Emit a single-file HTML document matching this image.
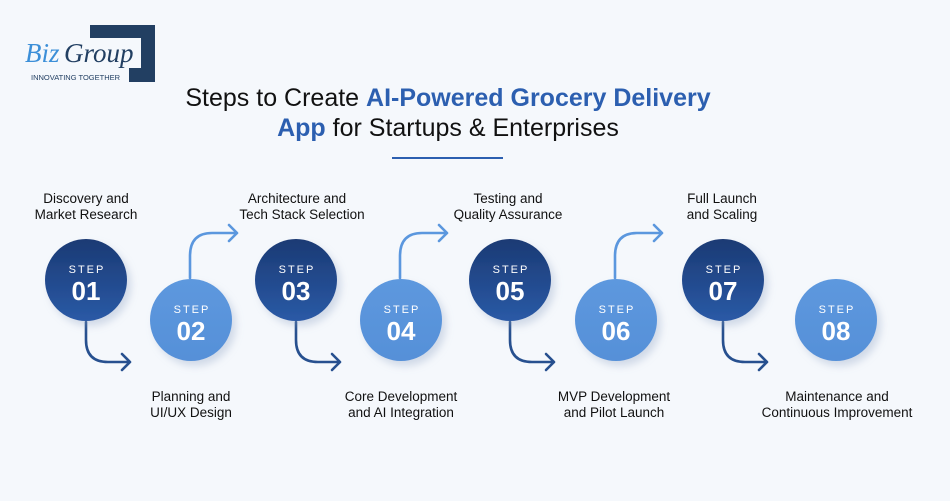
<!DOCTYPE html>
<html><head><meta charset="utf-8"><style>
html,body{margin:0;padding:0;background:#f5f8fc;}
svg{display:block}
</style></head><body>
<svg width="950" height="501" viewBox="0 0 950 501" xmlns="http://www.w3.org/2000/svg" font-family="Liberation Sans, sans-serif">
<defs>
<linearGradient id="dk" x1="0" y1="0" x2="0" y2="1"><stop offset="0" stop-color="#1b3a74"/><stop offset="1" stop-color="#2a5aa6"/></linearGradient>
<linearGradient id="lt" x1="0" y1="0" x2="0" y2="1"><stop offset="0" stop-color="#5d98de"/><stop offset="1" stop-color="#5690d8"/></linearGradient>
<filter id="sh" x="-30%" y="-30%" width="160%" height="160%"><feDropShadow dx="4" dy="5" stdDeviation="4" flood-color="#8aa0c0" flood-opacity="0.35"/></filter>
</defs>
<rect width="950" height="501" fill="#f5f8fc"/>
<!-- logo -->
<path d="M90 25 H155 V82 H129 V68 H141 V38 H104 V25 Z" fill="#223f62"/>
<rect x="90" y="25" width="14" height="13" fill="#223f62"/>
<text x="25" y="62" font-family="Liberation Serif, serif" font-style="italic" font-size="27" fill="#3c8fd8">Biz</text>
<text x="64" y="62" font-family="Liberation Serif, serif" font-style="italic" font-size="27" fill="#223f62">Group</text>
<text x="31" y="80" font-size="7.5" fill="#223f62">INNOVATING TOGETHER</text>
<!-- title -->
<text x="448" y="106" text-anchor="middle" font-size="25" fill="#111">Steps to Create <tspan fill="#2c5fb0" font-weight="bold">AI-Powered Grocery Delivery</tspan></text>
<text x="448" y="136" text-anchor="middle" font-size="25" fill="#111"><tspan fill="#2c5fb0" font-weight="bold">App</tspan> for Startups &amp; Enterprises</text>
<rect x="392" y="157" width="111" height="2" fill="#2c5fb0"/>
<!-- arrows -->
<g fill="none" stroke-width="2.6" stroke-linecap="round" stroke-linejoin="round">
<g stroke="#27508f">
<path d="M86 322 V340 Q86 362 108 362 H130 M122 354 L130 362 L122 370"/>
<path d="M296 322 V340 Q296 362 318 362 H340 M332 354 L340 362 L332 370"/>
<path d="M510 322 V340 Q510 362 532 362 H554 M546 354 L554 362 L546 370"/>
<path d="M723 322 V340 Q723 362 745 362 H767 M759 354 L767 362 L759 370"/>
</g>
<g stroke="#5b97de">
<path d="M190 278 V256 Q190 233 212 233 H237 M229 225 L237 233 L229 241"/>
<path d="M400 278 V256 Q400 233 422 233 H447 M439 225 L447 233 L439 241"/>
<path d="M615 278 V256 Q615 233 637 233 H662 M654 225 L662 233 L654 241"/>
</g>
</g>
<!-- circles -->
<g filter="url(#sh)">
<circle cx="86" cy="280" r="41" fill="url(#dk)"/>
<circle cx="296" cy="280" r="41" fill="url(#dk)"/>
<circle cx="510" cy="280" r="41" fill="url(#dk)"/>
<circle cx="723" cy="280" r="41" fill="url(#dk)"/>
<circle cx="191" cy="320" r="41" fill="url(#lt)"/>
<circle cx="401" cy="320" r="41" fill="url(#lt)"/>
<circle cx="616" cy="320" r="41" fill="url(#lt)"/>
<circle cx="836" cy="320" r="41" fill="url(#lt)"/>
</g>
<g fill="#fff" text-anchor="middle">
<g font-size="11" letter-spacing="2">
<text x="87" y="273">STEP</text><text x="297" y="273">STEP</text><text x="511" y="273">STEP</text><text x="724" y="273">STEP</text>
<text x="192" y="313">STEP</text><text x="402" y="313">STEP</text><text x="617" y="313">STEP</text><text x="837" y="313">STEP</text>
</g>
<g font-size="26" font-weight="bold">
<text x="86" y="300">01</text><text x="296" y="300">03</text><text x="510" y="300">05</text><text x="723" y="300">07</text>
<text x="191" y="340">02</text><text x="401" y="340">04</text><text x="616" y="340">06</text><text x="836" y="340">08</text>
</g>
</g>
<g font-size="13.5" fill="#111" text-anchor="middle">
<text x="86" y="203">Discovery and</text><text x="86" y="219">Market Research</text>
<text x="297" y="203">Architecture and</text><text x="302" y="219">Tech Stack Selection</text>
<text x="508" y="203">Testing and</text><text x="508" y="219">Quality Assurance</text>
<text x="722" y="203">Full Launch</text><text x="722" y="219">and Scaling</text>
<text x="191" y="401">Planning and</text><text x="191" y="417">UI/UX Design</text>
<text x="401" y="401">Core Development</text><text x="401" y="417">and AI Integration</text>
<text x="614" y="401">MVP Development</text><text x="614" y="417">and Pilot Launch</text>
<text x="837" y="401">Maintenance and</text><text x="837" y="417">Continuous Improvement</text>
</g>
</svg>
</body></html>
